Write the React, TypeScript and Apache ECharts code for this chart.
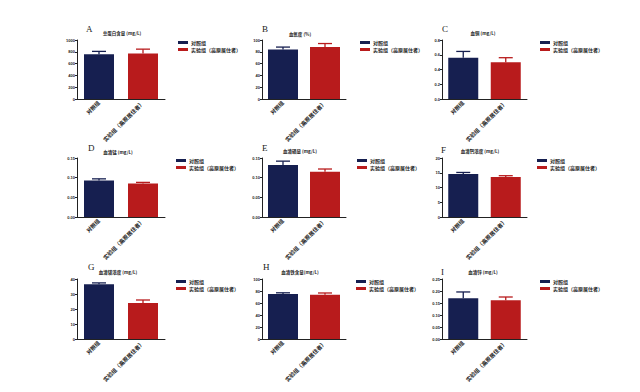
import React, { useEffect, useRef } from "react";
import * as echarts from "echarts";

const panelLetters = ["A", "B", "C", "D", "E", "F", "G", "H", "I"];
const panelTitles = [
  "总蛋白含量 (mg/L)",
  "血氧度 (%)",
  "血铜 (mg/L)",
  "血清锰 (mg/L)",
  "血清硒量 (mg/L)",
  "血清钙浓度 (mg/L)",
  "血清镁浓度 (mg/L)",
  "血清铁含量(mg/L)",
  "血清锌 (mg/L)",
];
const categories = ["对照组", "实验组（高原居住者）"];
const yMax = [1000, 100, 0.8, 0.15, 0.15, 20, 40, 100, 0.25];
const yInterval = [200, 20, 0.2, 0.05, 0.05, 5, 10, 20, 0.05];
const yDecimals = [0, 0, 1, 2, 2, 0, 0, 0, 2];
const controlValues = [757, 84, 0.56, 0.093, 0.132, 14.6, 36.5, 75, 0.17];
const controlErr = [50, 4, 0.085, 0.004, 0.01, 0.5, 0.9, 2, 0.026];
const expValues = [770, 88, 0.5, 0.085, 0.115, 13.6, 24.0, 73.7, 0.161];
const expErr = [75, 6, 0.06, 0.003, 0.007, 0.4, 2.0, 3, 0.014];

const NAVY = "#161f50";
const RED = "#b81b1c";

const colLeft = [77, 262, 442];
const colWidth = [88, 84, 85];
const rowTop = [40, 158, 279];
const rowHeight = [59, 59, 60];
const letterPos = [
  [86, 24], [262, 24], [442, 24],
  [88, 143], [262, 143], [441, 145],
  [88, 262], [263, 262], [441, 267],
];
const titlePos = [
  [122, 31], [300, 32], [483, 31],
  [118, 150], [300, 149], [480, 149],
  [118, 270], [300, 270], [483, 270],
];
const legendPos = [
  [178, 40], [360, 40], [540, 40],
  [176, 158], [357, 158], [537, 158],
  [176, 279], [356, 279], [540, 279],
];

export default function App() {
  const ref = useRef<HTMLDivElement>(null);
  useEffect(() => {
    if (!ref.current) return;
    const chart = echarts.init(ref.current, undefined, { renderer: "svg" });
    const grids: any[] = [];
    const xAxes: any[] = [];
    const yAxes: any[] = [];
    const series: any[] = [];
    const titles: any[] = [];
    const legends: any[] = [];
    for (let i = 0; i < 9; i++) {
      const r = Math.floor(i / 3);
      const c = i % 3;
      grids.push({ left: colLeft[c], top: rowTop[r], width: colWidth[c], height: rowHeight[r] });
      xAxes.push({
        type: "category",
        gridIndex: i,
        data: categories,
        axisLine: { lineStyle: { color: "#222", width: 1 } },
        axisTick: { alignWithLabel: true, length: 2, lineStyle: { color: "#222" } },
        axisLabel: {
          rotate: 45,
          fontSize: 5.5,
          fontWeight: "bold",
          color: "#222",
          margin: 3,
          fontFamily: "Noto Sans CJK SC",
        },
      });
      const dec = yDecimals[i];
      yAxes.push({
        type: "value",
        gridIndex: i,
        min: 0,
        max: yMax[i],
        interval: yInterval[i],
        splitLine: { show: false },
        axisLine: { show: true, lineStyle: { color: "#222", width: 1 } },
        axisTick: { show: true, length: 2, lineStyle: { color: "#222" } },
        axisLabel: {
          fontSize: 4,
          fontWeight: "bold",
          color: "#222",
          margin: 2,
          formatter: (v: number) => v.toFixed(dec),
        },
      });
      series.push({
        name: categories[0],
        type: "bar",
        xAxisIndex: i,
        yAxisIndex: i,
        data: [controlValues[i], "-"],
        barWidth: 30,
        barGap: "-100%",
        itemStyle: { color: NAVY },
      });
      series.push({
        name: categories[1],
        type: "bar",
        xAxisIndex: i,
        yAxisIndex: i,
        data: ["-", expValues[i]],
        barWidth: 30,
        barGap: "-100%",
        itemStyle: { color: RED },
      });
      series.push({
        name: "err" + i,
        type: "custom",
        xAxisIndex: i,
        yAxisIndex: i,
        z: 5,
        data: [
          [0, controlValues[i], controlErr[i]],
          [1, expValues[i], expErr[i]],
        ],
        renderItem: (params: any, api: any) => {
          const x = api.value(0);
          const y = api.value(1);
          const e = api.value(2);
          const base = api.coord([x, y]);
          const top = api.coord([x, y + e]);
          const color = params.dataIndex === 0 ? NAVY : RED;
          const half = 7;
          return {
            type: "group",
            children: [
              {
                type: "line",
                shape: { x1: base[0], y1: base[1], x2: top[0], y2: top[1] },
                style: { stroke: color, lineWidth: 1.3 },
              },
              {
                type: "line",
                shape: { x1: top[0] - half, y1: top[1], x2: top[0] + half, y2: top[1] },
                style: { stroke: color, lineWidth: 1.3 },
              },
            ],
          };
        },
      });
      titles.push({
        text: panelLetters[i],
        left: letterPos[i][0],
        top: letterPos[i][1],
        padding: 0,
        textStyle: { fontSize: 9, fontWeight: "normal", color: "#222", fontFamily: "Liberation Serif" },
      });
      titles.push({
        text: panelTitles[i],
        left: titlePos[i][0],
        top: titlePos[i][1],
        padding: 0,
        textAlign: "center",
        textStyle: { fontSize: 4.5, fontWeight: "bold", color: "#222", fontFamily: "Noto Sans CJK SC" },
      });
      legends.push({
        data: categories,
        orient: "vertical",
        left: legendPos[i][0],
        top: legendPos[i][1],
        padding: 0,
        itemGap: 2,
        itemWidth: 10,
        itemHeight: 3,
        icon: "rect",
        textStyle: { fontSize: 5, fontWeight: "bold", color: "#222", padding: [0, 0, 0, -2], fontFamily: "Noto Sans CJK SC" },
      });
    }
    chart.setOption({
      animation: false,
      backgroundColor: "#ffffff",
      title: titles,
      legend: legends,
      grid: grids,
      xAxis: xAxes,
      yAxis: yAxes,
      series,
    });
    return () => chart.dispose();
  }, []);
  return (
    <div
      ref={ref}
      style={{ position: "fixed", left: 0, top: 0, width: 640, height: 392, background: "#fff" }}
    />
  );
}
